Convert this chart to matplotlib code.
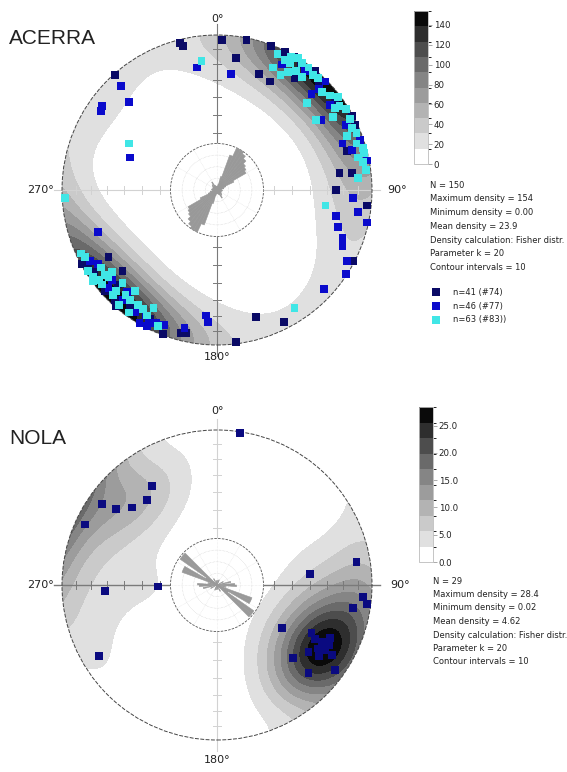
import numpy as np
import matplotlib.pyplot as plt
from matplotlib.patches import Circle, Wedge, Rectangle
from matplotlib.colors import ListedColormap, BoundaryNorm
import matplotlib as mpl


# poles in equal-area net coordinates (east, north), unit = primitive radius
acerra_navy_x = [-0.24, -0.22, 0.03, 0.19, 0.12, -0.66, -0.87, -0.70, -0.83, -0.61, -0.64,
                 -0.66, -0.65, -0.35, -0.23, -0.20, 0.12, 0.35, 0.44, 0.50, 0.27, 0.34,
                 0.50, 0.63, 0.87, 0.84, 0.79, 0.87, 0.77, 0.97, 0.88, 0.25, 0.43, 0.54,
                 0.66, 0.76, 0.89, -0.79, -0.72, -0.56, -0.43]
acerra_navy_y = [0.95, 0.93, 0.97, 0.97, 0.85, 0.74, -0.48, -0.43, -0.50, -0.52, -0.61,
                 -0.71, -0.75, -0.93, -0.92, -0.92, -0.98, 0.93, 0.89, 0.86, 0.75, 0.70,
                 0.72, 0.77, 0.48, 0.25, 0.11, 0.11, 0.0, -0.10, -0.46, -0.82, -0.85, 0.81,
                 0.67, 0.58, 0.42, -0.53, -0.65, -0.74, -0.83]

acerra_blue_x = [0.09, -0.13, -0.62, -0.57, -0.74, -0.75, -0.56, -0.77, -0.77, -0.70, -0.58,
                 -0.53, -0.50, -0.45, -0.44, -0.39, -0.21, -0.07, -0.06, 0.42, 0.61, 0.66,
                 0.70, 0.67, 0.81, 0.87, 0.97, 0.88, 0.91, 0.97, 0.77, 0.78, 0.81, 0.81,
                 0.84, 0.83, 0.69, 0.57, 0.73, 0.83, 0.92, -0.82, -0.68, -0.61, -0.46, -0.34]
acerra_blue_y = [0.75, 0.79, 0.67, 0.57, 0.54, 0.51, 0.21, -0.27, -0.48, -0.63, -0.66,
                 -0.79, -0.86, -0.88, -0.86, -0.86, -0.89, -0.81, -0.85, 0.81, 0.62, 0.65,
                 0.70, 0.45, 0.30, 0.26, 0.19, -0.05, -0.14, -0.21, -0.17, -0.24, -0.31, -0.36,
                 -0.46, -0.54, -0.64, 0.77, 0.55, 0.42, 0.32, -0.46, -0.58, -0.71, -0.81, -0.87]

acerra_cyan_x = [-0.10, -0.57, -0.98, -0.88, -0.85, -0.75, -0.68, -0.80, -0.76, -0.70, -0.80,
                 -0.74, -0.61, -0.53, -0.59, -0.67, -0.63, -0.57, -0.48, -0.41, -0.38, 0.39,
                 0.48, 0.52, 0.55, 0.36, 0.41, 0.46, 0.47, 0.55, 0.62, 0.65, 0.73, 0.78,
                 0.58, 0.79, 0.83, 0.86, 0.75, 0.64, 0.84, 0.90, 0.94, 0.95, 0.91, 0.94,
                 0.91, 0.70, 0.50, 0.44, 0.51, 0.59, 0.68, 0.76, 0.87, 0.90, 0.96, -0.83,
                 -0.72, -0.65, -0.56, -0.51, -0.45]
acerra_cyan_y = [0.83, 0.30, -0.05, -0.41, -0.43, -0.50, -0.53, -0.56, -0.58, -0.56, -0.59,
                 -0.61, -0.60, -0.65, -0.68, -0.68, -0.74, -0.79, -0.77, -0.76, -0.88, 0.88,
                 0.86, 0.85, 0.82, 0.79, 0.74, 0.76, 0.82, 0.73, 0.74, 0.72, 0.61, 0.60,
                 0.56, 0.54, 0.52, 0.46, 0.47, 0.45, 0.35, 0.37, 0.27, 0.24, 0.21, 0.18,
                 0.08, -0.10, -0.76, 0.84, 0.77, 0.79, 0.63, 0.53, 0.40, 0.30, 0.13, -0.52,
                 -0.55, -0.65, -0.71, -0.74, -0.81]

nola_x = [-0.42, -0.45, -0.55, -0.65, -0.74, -0.85, -0.72, -0.38, 0.15, -0.76, 0.90, 0.60,
          0.94, 0.97, 0.88, 0.42, 0.61, 0.73, 0.68, 0.59, 0.49, 0.59, 0.76, 0.65, 0.70,
          0.63, 0.72, 0.66, 0.74]
nola_y = [0.64, 0.55, 0.50, 0.49, 0.52, 0.39, -0.04, -0.01, 0.98, -0.46, 0.15, 0.07,
          -0.08, -0.12, -0.15, -0.28, -0.31, -0.34, -0.37, -0.43, -0.47, -0.57, -0.55, -0.41,
          -0.42, -0.35, -0.39, -0.46, -0.45]

# rose diagrams: 5 degree bins from 0 to 180 (bidirectional), fraction of outer ring
acerra_rose = [0.08, 0.05, 0.12, 0.30, 0.80, 1.00, 1.00, 0.95, 0.88, 0.80, 0.76, 0.72,
               0.40, 0.20, 0.12, 0.15, 0.08, 0.10, 0.05, 0.12, 0.08, 0.10, 0.05, 0.10,
               0.05, 0.12, 0.08, 0.15, 0.10, 0.20, 0.12, 0.08, 0.10, 0.05, 0.08, 0.05]
nola_rose = [0.10, 0.0, 0.0, 0.0, 0.12, 0.0, 0.0, 0.0, 0.0, 0.0, 0.0, 0.0,
             0.15, 0.0, 0.0, 0.30, 0.0, 0.38, 0.42, 0.0, 0.20, 0.0, 0.80, 0.80,
             0.28, 0.97, 0.97, 0.0, 0.0, 0.0, 0.15, 0.0, 0.0, 0.10, 0.0, 0.0]

acerra_stats = ["N = 150", "Maximum density = 154", "Minimum density = 0.00",
                "Mean density = 23.9", "Density calculation: Fisher distr.",
                "Parameter k = 20", "Contour intervals = 10"]
nola_stats = ["N = 29", "Maximum density = 28.4", "Minimum density = 0.02",
              "Mean density = 4.62", "Density calculation: Fisher distr.",
              "Parameter k = 20", "Contour intervals = 10"]
legend_labels = ["n=41 (#74)", "n=46 (#77)", "n=63 (#83))"]
acerra_max, nola_max = 154, 28.4

NAVY, BLUE, CYAN = "#0a0a66", "#0a0acc", "#40e6e6"
BAND_GRAYS = ["#ffffff", "#e0e0e0", "#cacaca", "#b3b3b3", "#9c9c9c",
              "#858585", "#6a6a6a", "#4d4d4d", "#2e2e2e", "#0a0a0a"]
K_SMOOTH = 13   # kernel width that reproduces the smoothed contours of the original

W, H = 567, 772
fig = plt.figure(figsize=(W / 100, H / 100), dpi=100)
plt.rcParams["font.family"] = ["DejaVu Sans"]


def net_axes(cx, cy, R, span=1.3):
    half = span * R
    ax = fig.add_axes([(cx - half) / W, (H - cy - half) / H, 2 * half / W, 2 * half / H])
    ax.set_xlim(-span, span)
    ax.set_ylim(-span, span)
    ax.set_aspect("equal")
    ax.axis("off")
    ax.patch.set_alpha(0)
    return ax


def unit_vectors(x, y):
    x = np.asarray(x, float)
    y = np.asarray(y, float)
    r = np.hypot(x, y)
    rr = np.minimum(r, 1.0)
    safe = np.where(r > 0, r, 1.0)
    h = rr * np.sqrt(2 - rr ** 2)
    return np.column_stack([x / safe * h, y / safe * h, -(1 - rr ** 2)])


def fisher_density(px, py, gx, gy, k):
    d = unit_vectors(px, py)
    g = unit_vectors(gx.ravel(), gy.ravel())
    c = np.abs(g @ d.T)
    dens = (k / (2 * np.pi) * np.exp(k * (c - 1))).sum(axis=1)
    return dens.reshape(gx.shape)


def draw_net(ax, xs, ys, vmax, dark_vertical):
    g = np.linspace(-1.02, 1.02, 241)
    gx, gy = np.meshgrid(g, g)
    dens = fisher_density(np.concatenate(xs), np.concatenate(ys), gx, gy, K_SMOOTH)
    dens = dens / dens.max() * vmax
    levels = np.linspace(0, vmax, 11)
    cs = ax.contourf(gx, gy, np.clip(dens, 0, vmax * 0.999), levels=levels,
                     colors=BAND_GRAYS, zorder=1)
    rim = Circle((0, 0), 1, transform=ax.transData, facecolor="none")
    cs.set_clip_path(rim)
    ax.add_patch(Circle((0, 0), 1, fill=False, edgecolor="#444444", lw=0.7,
                        ls=(0, (4, 1.5)), zorder=4))

    dark, light = "#7a7a7a", "#d2d2d2"
    vcol = dark if dark_vertical else light
    hcol = light if dark_vertical else dark
    ax.plot([0, 0], [-1.07, 1.07], color=vcol, lw=0.8, zorder=3)
    ax.plot([-1.05, 1.05], [0, 0], color=hcol, lw=0.8 if dark_vertical else 1.0, zorder=3)
    for p in range(10, 90, 10):
        r = np.sqrt(2) * np.sin(np.radians((90 - p) / 2))
        for s in (-1, 1):
            ax.plot([-0.025, 0.025], [s * r, s * r], color=vcol, lw=0.7, zorder=3)
            ax.plot([s * r, s * r], [-0.025, 0.025], color=hcol, lw=0.7, zorder=3)


def draw_rose(ax, values, rmax=0.30):
    ax.add_patch(Circle((0, 0), rmax, facecolor="white", edgecolor="#555555", lw=0.6,
                        ls=(0, (3, 1.5)), zorder=5))
    for f in (0.25, 0.5, 0.75):
        ax.add_patch(Circle((0, 0), rmax * f, fill=False, edgecolor="#c8c8c8", lw=0.4,
                            ls=(0, (1, 1.5)), zorder=5))
    for a in range(0, 360, 30):
        t = np.radians(a)
        ax.plot([0, rmax * np.sin(t)], [0, rmax * np.cos(t)], color="#dddddd",
                lw=0.4, ls=(0, (1, 1.5)), zorder=5)
    width = 180 / len(values)
    for i, v in enumerate(values):
        if v <= 0:
            continue
        for base in (0, 180):
            a1 = base + i * width
            ax.add_patch(Wedge((0, 0), v * rmax, 90 - a1 - width, 90 - a1,
                               facecolor="#999999", edgecolor="#999999", lw=0.4,
                               zorder=6))


def direction_labels(ax, top, bottom, left, right):
    kw = dict(fontsize=8, color="#222222")
    ax.text(0, top, "0°", ha="center", va="center", **kw)
    ax.text(0, bottom, "180°", ha="center", va="center", **kw)
    ax.text(left, 0, "270°", ha="right", va="center", **kw)
    ax.text(right, 0, "90°", ha="left", va="center", **kw)


def colorbar(x0, y_top, y_bot, vmax, ticks, fmt):
    cax = fig.add_axes([x0 / W, (H - y_bot) / H, 14 / W, (y_bot - y_top) / H])
    levels = np.linspace(0, vmax, 11)
    cmap = ListedColormap(BAND_GRAYS)
    norm = BoundaryNorm(levels, cmap.N)
    cb = fig.colorbar(mpl.cm.ScalarMappable(norm=norm, cmap=cmap), cax=cax,
                      ticks=ticks, format=fmt)
    cb.outline.set_edgecolor("#bbbbbb")
    cb.outline.set_linewidth(0.6)
    cax.tick_params(labelsize=6.2, length=3, width=0.5, color="#888888", pad=1,
                    labelcolor="#222222")
    return cb


def stats_block(x, y0, lines, dy):
    for i, s in enumerate(lines):
        fig.text(x / W, 1 - (y0 + i * dy) / H, s, fontsize=6, va="center",
                 ha="left", color="#222222")


# ---- ACERRA ----
ax1 = net_axes(217, 190, 155)
draw_net(ax1, [acerra_navy_x, acerra_blue_x, acerra_cyan_x],
         [acerra_navy_y, acerra_blue_y, acerra_cyan_y], acerra_max, dark_vertical=True)
draw_rose(ax1, acerra_rose)
for xs, ys, col in [(acerra_navy_x, acerra_navy_y, NAVY),
                    (acerra_blue_x, acerra_blue_y, BLUE),
                    (acerra_cyan_x, acerra_cyan_y, CYAN)]:
    ax1.scatter(xs, ys, marker="s", s=32, color=col, edgecolors="none", zorder=7)
direction_labels(ax1, 1.10, -1.08, -1.05, 1.10)
fig.text(9 / W, 1 - 38 / H, "ACERRA", fontsize=15, family="Liberation Sans",
         va="center", color="#222222")
colorbar(414, 11, 164, acerra_max, list(range(0, 141, 20)), "%d")
stats_block(430, 185, acerra_stats, 13.8)
for i, (lab, col) in enumerate(zip(legend_labels, [NAVY, BLUE, CYAN])):
    yc = 292 + i * 14
    fig.patches.append(Rectangle((432 / W, 1 - (yc + 4) / H), 8 / W, 8 / H,
                                 transform=fig.transFigure, facecolor=col,
                                 edgecolor="none"))
    fig.text(453 / W, 1 - yc / H, lab, fontsize=6, va="center", color="#222222")

# ---- NOLA ----
ax2 = net_axes(217, 585, 155)
draw_net(ax2, [nola_x], [nola_y], nola_max, dark_vertical=False)
draw_rose(ax2, nola_rose)
ax2.scatter(nola_x, nola_y, marker="s", s=32, color="#0a0a80", edgecolors="none", zorder=7)
direction_labels(ax2, 1.12, -1.13, -1.05, 1.12)
fig.text(9 / W, 1 - 439 / H, "NOLA", fontsize=15, family="Liberation Sans",
         va="center", color="#222222")
colorbar(419, 407, 562, nola_max, [0, 5, 10, 15, 20, 25], "%.1f")
stats_block(433, 581, nola_stats, 13.5)

fig.savefig("out.png", dpi=100)
